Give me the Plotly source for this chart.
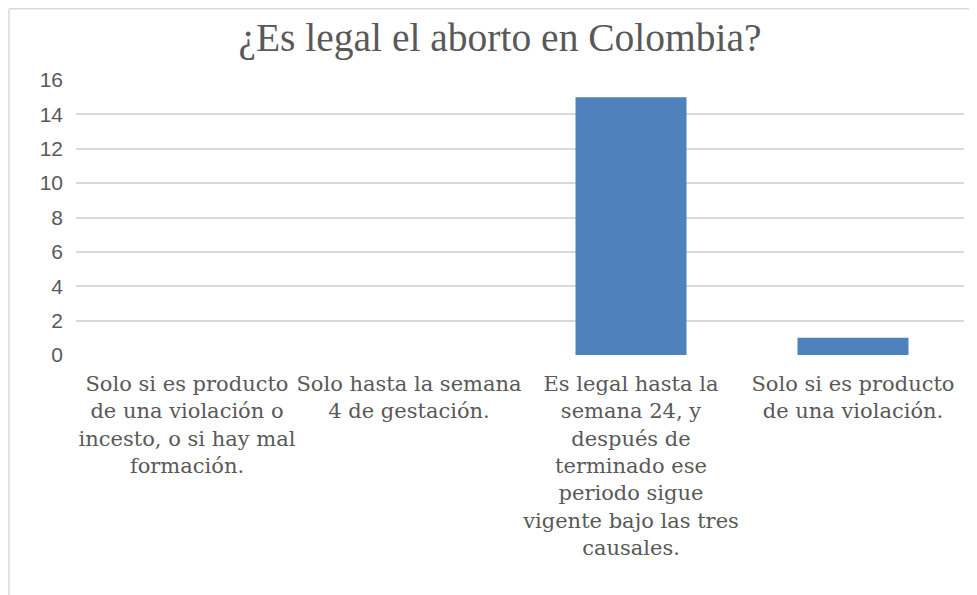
import plotly.graph_objects as go

title_text = "¿Es legal el aborto en Colombia?"
categories = [
    "Solo si es producto<br>de una violación o<br>incesto, o si hay mal<br>formación.",
    "Solo hasta la semana<br>4 de gestación.",
    "Es legal hasta la<br>semana 24, y<br>después de<br>terminado ese<br>periodo sigue<br>vigente bajo las tres<br>causales.",
    "Solo si es producto<br>de una violación.",
]
values = [0, 0, 15, 1]
y_ticks = [0, 2, 4, 6, 8, 10, 12, 14, 16]

# page has an 8px body margin, so the figure sits at (8, 8) on screen
W, H = 969, 587
L, R, T, B = 68, 13, 72, 240
pw, ph = W - L - R, H - T - B

fig = go.Figure()
fig.add_trace(go.Bar(
    x=list(range(len(categories))),
    y=values,
    marker=dict(color="#4F81BD", line=dict(width=0)),
    width=0.5,
    hoverinfo="skip",
))

fig.update_layout(
    width=W, height=H,
    margin=dict(l=L, r=R, t=T, b=B, pad=0),
    paper_bgcolor="white",
    plot_bgcolor="white",
    showlegend=False,
    title=dict(
        text=title_text,
        x=492 / W, xanchor="center",
        y=1 - 29 / H, yanchor="middle",
        font=dict(family="Liberation Serif", size=39.5, color="#595959"),
    ),
    xaxis=dict(
        range=[-0.5, 3.5],
        tickmode="array",
        tickvals=list(range(len(categories))),
        ticktext=categories,
        tickangle=0,
        showgrid=False,
        zeroline=False,
        showline=False,
        ticks="",
        ticklen=0,
        ticklabelstandoff=14,
        tickfont=dict(family="DejaVu Serif", size=21, color="#595959"),
    ),
    yaxis=dict(
        range=[0, 16],
        tickmode="array",
        tickvals=y_ticks,
        showgrid=True,
        gridcolor="#D9D9D9",
        gridwidth=1.5,
        zeroline=True,
        zerolinecolor="rgba(0,0,0,0)",
        showline=False,
        ticks="",
        ticklabelstandoff=12,
        tickfont=dict(family="Liberation Sans", size=21, color="#595959"),
    ),
)

# chart border (left and top edges visible)
x_left = (1 - L) / pw
y_top = 1 + (T - 0.75) / ph
y_bot = (ph + T - H) / ph
x_right = (W - L) / pw
fig.add_shape(type="line", xref="paper", yref="paper",
              x0=x_left, x1=x_left, y0=y_bot, y1=y_top,
              line=dict(color="#D9D9D9", width=1.5))
fig.add_shape(type="line", xref="paper", yref="paper",
              x0=x_left, x1=x_right, y0=y_top, y1=y_top,
              line=dict(color="#D9D9D9", width=1.5))

fig.write_html("out.html")
